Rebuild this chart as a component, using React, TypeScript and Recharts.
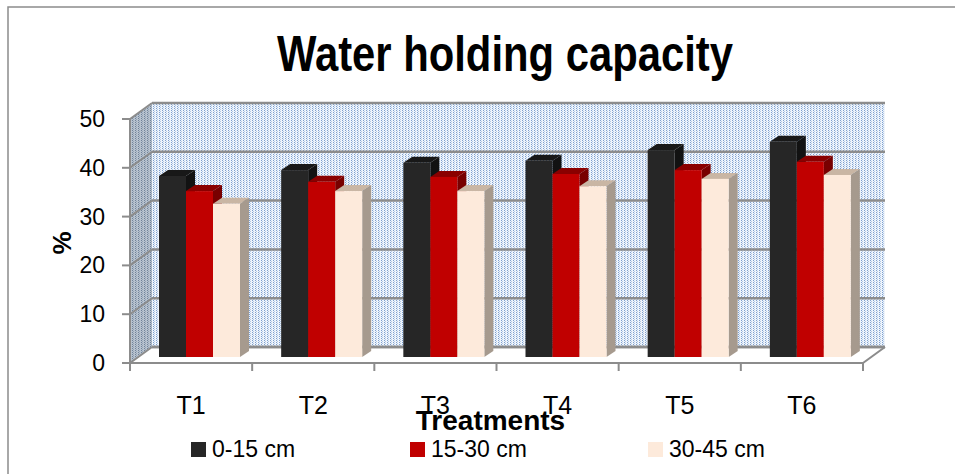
import { BarChart, Bar, XAxis, YAxis, CartesianGrid } from 'recharts';

const categories = ['T1', 'T2', 'T3', 'T4', 'T5', 'T6'];
const depth0to15 = [37.1, 38.3, 39.8, 40.2, 42.4, 44.1];
const depth15to30 = [34.0, 35.9, 36.9, 37.5, 38.3, 40.0];
const depth30to45 = [31.4, 34.0, 34.0, 35.0, 36.5, 37.3];
const yTicks = [0, 10, 20, 30, 40, 50];

const series = [
  { key: 'd1', name: '0-15 cm', values: depth0to15, front: '#262626', top: '#181818', side: '#121212' },
  { key: 'd2', name: '15-30 cm', values: depth15to30, front: '#c00000', top: '#8a0000', side: '#780000' },
  { key: 'd3', name: '30-45 cm', values: depth30to45, front: '#fdeadb', top: '#c9b6a4', side: '#a69a8e' },
];

const rows = categories.map((name, i) => {
  const row: Record<string, string | number> = { name };
  series.forEach((s) => { row[s.key] = s.values[i]; });
  return row;
});

// fake 3d: bar plane -> front edge of floor / back wall
const FRONT = { dx: -8, dy: 6 };
const BACK = { dx: 14, dy: -10 };
const BAR_DEPTH = { dx: 9, dy: -6 };
const legendX = [191, 410, 648];

const SANS = "'Liberation Sans', Arial, sans-serif";
const NARROW = "'Liberation Sans Narrow', 'Arial Narrow', 'Liberation Sans', Arial, sans-serif";
const AXIS_GREY = '#8c8c8c';

function gridLine(p: any) {
  const L = p.x, R = p.x + p.width, T = p.y, B = p.y + p.height;
  const fl = L + FRONT.dx, fr = R + FRONT.dx, fb = B + FRONT.dy, ft = T + FRONT.dy;
  const bl = L + BACK.dx, br = R + BACK.dx, bb = B + BACK.dy, bt = T + BACK.dy;
  const gy = p.y1;
  const line = (
    <g>
      <line x1={fl} y1={gy + FRONT.dy} x2={bl} y2={gy + BACK.dy} stroke={AXIS_GREY} strokeWidth={2} />
      <line x1={bl} y1={gy + BACK.dy} x2={br} y2={gy + BACK.dy} stroke={AXIS_GREY} strokeWidth={2.5} />
      <line x1={fl - 8} y1={gy + FRONT.dy} x2={fl} y2={gy + FRONT.dy} stroke={AXIS_GREY} strokeWidth={2} />
    </g>
  );
  if (p.index !== 0) return <g key={p.key}>{line}</g>;
  const n = categories.length;
  return (
    <g key={p.key}>
      <defs>
        <pattern id="wallDots" width="3" height="2" patternUnits="userSpaceOnUse">
          <rect width="3" height="2" fill="#eef4fb" />
          <rect x="0" y="0" width="1" height="1" fill="#7d9fcf" />
          <rect x="1" y="1" width="1" height="1" fill="#b3c9e6" />
        </pattern>
        <pattern id="sideDots" width="3" height="2" patternUnits="userSpaceOnUse">
          <rect width="3" height="2" fill="#b7c2ce" />
          <rect x="0" y="0" width="1" height="1" fill="#6f829a" />
          <rect x="1" y="1" width="1" height="1" fill="#94a3b6" />
        </pattern>
      </defs>
      <rect x={bl} y={bt} width={br - bl} height={bb - bt} fill="url(#wallDots)" />
      <polygon points={`${fl},${fb} ${fl},${ft} ${bl},${bt} ${bl},${bb}`} fill="url(#sideDots)" />
      <polygon points={`${fl},${fb} ${fr},${fb} ${br},${bb} ${bl},${bb}`} fill="#ffffff" stroke="#b0b0b0" strokeWidth={1} />
      <line x1={bl} y1={bb} x2={br} y2={bb} stroke={AXIS_GREY} strokeWidth={2.5} />
      <line x1={fr} y1={fb} x2={br} y2={bb} stroke={AXIS_GREY} strokeWidth={2} />
      <line x1={fl} y1={ft} x2={fl} y2={fb} stroke={AXIS_GREY} strokeWidth={2} />
      <line x1={fl} y1={fb} x2={fr} y2={fb} stroke={AXIS_GREY} strokeWidth={2} />
      {Array.from({ length: n + 1 }, (_, i) => {
        const tx = fl + (i * (fr - fl)) / n;
        return <line key={i} x1={tx} y1={fb} x2={tx} y2={fb + 8} stroke={AXIS_GREY} strokeWidth={2} />;
      })}
      {line}
    </g>
  );
}

function makeBar(s: typeof series[number]) {
  return (props: any) => {
    const { x, y, width, height } = props;
    const dx = BAR_DEPTH.dx, dy = BAR_DEPTH.dy;
    return (
      <g>
        <polygon points={`${x},${y} ${x + dx},${y + dy} ${x + width + dx},${y + dy} ${x + width},${y}`} fill={s.top} />
        <polygon points={`${x + width},${y} ${x + width + dx},${y + dy} ${x + width + dx},${y + height + dy} ${x + width},${y + height}`} fill={s.side} />
        <rect x={x} y={y} width={width} height={height} fill={s.front} />
      </g>
    );
  };
}

function XTick(props: any) {
  const { x, y, payload } = props;
  return (
    <text x={x + FRONT.dx} y={y + 57} textAnchor="middle" fontFamily={NARROW} fontSize={25} fill="#000">
      {payload.value}
    </text>
  );
}

function YTick(props: any) {
  const { x, y, payload } = props;
  return (
    <text x={x + FRONT.dx - 25} y={y + FRONT.dy + 8} textAnchor="end" fontFamily={SANS} fontSize={23} fill="#000">
      {payload.value}
    </text>
  );
}

export default function App() {
  return (
    <div style={{ position: 'absolute', left: 0, top: 0, width: 955, height: 474, background: '#fff', overflow: 'hidden' }}>
      <BarChart
        width={955}
        height={474}
        data={rows}
        margin={{ top: 113, right: 84, bottom: 57, left: 78 }}
        barGap={0}
        barCategoryGap={20}
      >
        <CartesianGrid vertical={false} horizontal={gridLine} />
        <XAxis
          dataKey="name"
          height={60}
          axisLine={false}
          tickLine={false}
          tickSize={0}
          tickMargin={0}
          tick={<XTick />}
          label={{
            content: (p: any) => {
              const vb = p.viewBox;
              return (
                <text x={vb.x + vb.width / 2 + FRONT.dx - 6} y={vb.y + 73} textAnchor="middle" fontFamily={NARROW} fontWeight="bold" fontSize={28} fill="#000">
                  Treatments
                </text>
              );
            },
          }}
        />
        <YAxis
          width={60}
          domain={[0, 50]}
          ticks={yTicks}
          axisLine={false}
          tickLine={false}
          tickSize={0}
          tickMargin={0}
          tick={<YTick />}
          label={{
            content: (p: any) => {
              const vb = p.viewBox;
              const cx = vb.x - 16;
              const cy = vb.y + vb.height / 2 + 8;
              return (
                <text x={cx} y={cy} transform={`rotate(-90 ${cx} ${cy})`} textAnchor="middle" dominantBaseline="central" fontFamily={SANS} fontWeight="bold" fontSize={26} fill="#000">
                  %
                </text>
              );
            },
          }}
        />
        {series.map((s) => (
          <Bar key={s.key} dataKey={s.key} name={s.name} barSize={27} shape={makeBar(s)} isAnimationActive={false} />
        ))}
      </BarChart>
      <svg width={955} height={474} style={{ position: 'absolute', left: 0, top: 0, pointerEvents: 'none' }}>
        <rect x={8} y={7} width={960} height={480} fill="none" stroke={AXIS_GREY} strokeWidth={1.5} />
        <text x={505} y={71} textAnchor="middle" fontFamily={NARROW} fontWeight="bold" fontSize={50} textLength={456} lengthAdjust="spacingAndGlyphs" fill="#000">
          Water holding capacity
        </text>
        {series.map((s, i) => (
          <g key={s.key}>
            <rect x={legendX[i]} y={442} width={15} height={15} fill={s.front} />
            <text x={legendX[i] + 21} y={457} fontFamily={SANS} fontSize={23} fill="#000">
              {s.name}
            </text>
          </g>
        ))}
      </svg>
    </div>
  );
}
